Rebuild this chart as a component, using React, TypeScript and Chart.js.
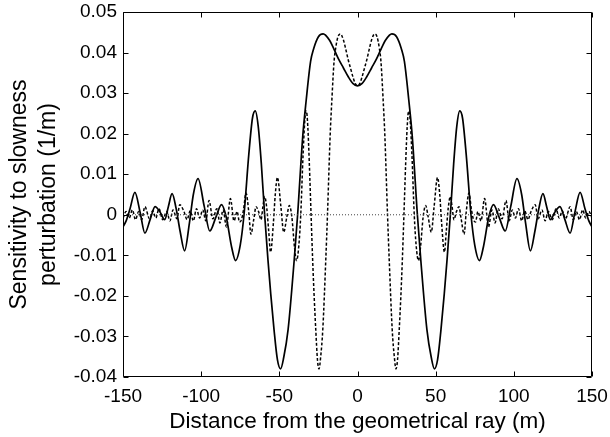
import React, { useEffect, useRef } from "react";
import { Chart, registerables } from "chart.js";

Chart.register(...registerables);

// Right half (x >= 0); the curves are symmetric about x = 0.
const solidHalfX = [0, 3, 6, 9, 12, 15, 18, 22, 25, 28, 30, 32.8, 35, 38.3, 40.5, 44.4, 47.2, 49.2, 51.2, 53.4, 55.5, 57.3, 59.4, 61.5, 63.5, 65.4, 67.2, 69.5, 72.6, 75, 78, 80.5, 84, 87, 90.5, 94.5, 98, 102, 105, 107.5, 110.6, 113.5, 116, 118.6, 121, 123.3, 126.5, 129.5, 132.5, 136, 139, 142.4, 145.5, 148, 150];
const solidHalfY = [0.0318, 0.0324, 0.0341, 0.0362, 0.0383, 0.0408, 0.0431, 0.0446, 0.0439, 0.041, 0.0378, 0.0283, 0.0195, 0.0, -0.0112, -0.0283, -0.0352, -0.038, -0.0358, -0.0283, -0.0195, -0.011, 0.0, 0.0125, 0.0218, 0.0256, 0.0238, 0.015, 0.0, -0.0075, -0.0113, -0.008, -0.0005, 0.0025, -0.0005, -0.004, 0.002, 0.0089, 0.005, -0.002, -0.0089, -0.004, 0.0015, 0.0052, 0.002, -0.0012, 0.0008, 0.002, -0.001, -0.0045, 0.0005, 0.0055, 0.0015, -0.0015, -0.003];

const dashedHalfX = [0, 1.5, 3, 4.5, 6, 7.5, 9, 11, 12.5, 14, 15, 16.4, 17.5, 19.2, 20.3, 22.2, 23.6, 24.6, 25.6, 26.7, 27.8, 28.7, 29.7, 30.8, 31.8, 32.7, 33.6, 34.8, 36.3, 37.5, 39, 40.3, 42, 43.6, 45.2, 47.2, 49, 51.2, 52.6, 53.8, 55.6, 56.8, 58, 59.4, 60.5, 61.7, 63.3, 64.9, 66.3, 68.2, 69.5, 71.3, 72.8, 74.2, 75.5, 77, 79, 81.3, 83.8, 86, 88, 90, 92.5, 95, 97, 99, 101, 103, 105, 107, 109, 111, 113.7, 115.5, 118, 120, 122, 124.6, 127, 129, 131, 133, 136, 138, 140, 142, 144, 146, 148, 150];
const dashedHalfY = [0.0318, 0.0324, 0.0341, 0.0362, 0.0383, 0.0408, 0.0431, 0.0446, 0.0439, 0.041, 0.0378, 0.0283, 0.0195, 0.0, -0.0112, -0.0283, -0.0352, -0.038, -0.0358, -0.0283, -0.0195, -0.011, 0.0, 0.0125, 0.0218, 0.0256, 0.0238, 0.015, 0.0, -0.0075, -0.0113, -0.008, -0.0005, 0.0023, -0.0005, -0.0043, 0.002, 0.0092, 0.005, -0.002, -0.0092, -0.004, 0.0015, 0.0045, 0.002, -0.0012, 0.0008, 0.002, -0.001, -0.0048, 0.0005, 0.0054, 0.0015, -0.0012, -0.0018, 0.0008, -0.0015, 0.004, -0.003, 0.0012, -0.002, 0.0015, -0.001, 0.0035, -0.0015, 0.0012, -0.0008, 0.0015, -0.0015, 0.001, -0.0012, 0.0008, 0.0025, -0.001, 0.0012, -0.0015, 0.0008, -0.0012, 0.0015, -0.0008, 0.001, -0.001, 0.002, -0.0012, 0.0008, -0.0012, 0.0012, -0.0008, 0.0008, -0.0008];

const zeroLineX = [-150, 150];
const zeroLineY = [0, 0];

const xTicks = [-150, -100, -50, 0, 50, 100, 150];
const yTicks = [-0.04, -0.03, -0.02, -0.01, 0, 0.01, 0.02, 0.03, 0.04, 0.05];

const xTitle = "Distance from the geometrical ray (m)";
const yTitle = ["Sensitivity to slowness", "perturbation (1/m)"];

function mirror(xs: number[], ys: number[]) {
  const pts: { x: number; y: number }[] = [];
  for (let i = xs.length - 1; i >= 1; i--) pts.push({ x: -xs[i], y: ys[i] });
  for (let i = 0; i < xs.length; i++) pts.push({ x: xs[i], y: ys[i] });
  return pts;
}

const framePlugin = {
  id: "frame",
  afterDraw(chart: any) {
    const { ctx, chartArea } = chart;
    const { left, right, top, bottom } = chartArea;
    const xs = chart.scales.x;
    const ys = chart.scales.y;
    const L = Math.round(left) + 0.5;
    const R = Math.round(right) - 0.5;
    const T = Math.round(top) + 0.5;
    const B = Math.round(bottom) - 0.5;
    ctx.save();
    ctx.strokeStyle = "#000";
    ctx.lineWidth = 1;
    ctx.beginPath();
    ctx.rect(L, T, R - L, B - T);
    const tl = 5;
    xTicks.forEach((v) => {
      const px = Math.round(xs.getPixelForValue(v)) + 0.5;
      ctx.moveTo(px, B);
      ctx.lineTo(px, B - tl);
      ctx.moveTo(px, T);
      ctx.lineTo(px, T + tl);
    });
    yTicks.forEach((v) => {
      const py = Math.round(ys.getPixelForValue(v)) + 0.5;
      ctx.moveTo(L, py);
      ctx.lineTo(L + tl, py);
      ctx.moveTo(R, py);
      ctx.lineTo(R - tl, py);
    });
    ctx.stroke();
    ctx.restore();
  },
};

export default function App() {
  const ref = useRef<HTMLCanvasElement | null>(null);

  useEffect(() => {
    if (!ref.current) return;
    const font = "'Liberation Sans', Arial, Helvetica, sans-serif";
    const chart = new Chart(ref.current, {
      type: "line",
      data: {
        datasets: [
          {
            label: "zero",
            data: zeroLineX.map((x, i) => ({ x, y: zeroLineY[i] })),
            borderColor: "#444",
            borderWidth: 1,
            borderDash: [1, 2],
            pointRadius: 0,
          },
          {
            label: "dashed",
            data: mirror(dashedHalfX, dashedHalfY),
            borderColor: "#000",
            borderWidth: 1.5,
            borderDash: [3, 2],
            pointRadius: 0,
            cubicInterpolationMode: "monotone",
          },
          {
            label: "solid",
            data: mirror(solidHalfX, solidHalfY),
            borderColor: "#000",
            borderWidth: 1.7,
            pointRadius: 0,
            cubicInterpolationMode: "monotone",
          },
        ],
      },
      options: {
        animation: false,
        responsive: false,
        maintainAspectRatio: false,
        events: [],
        layout: { padding: { left: 0, right: 18, top: 12, bottom: 0 } },
        plugins: {
          legend: { display: false },
          tooltip: { enabled: false },
        },
        scales: {
          x: {
            type: "linear",
            min: -150,
            max: 150,
            grid: { display: false, drawTicks: false },
            border: { display: false },
            afterBuildTicks: (s: any) => {
              s.ticks = xTicks.map((v) => ({ value: v }));
            },
            afterFit: (s: any) => {
              s.height = 60;
              s.paddingLeft = 0;
              s.paddingRight = 0;
            },
            ticks: {
              color: "#000",
              font: { family: font, size: 19 },
              padding: 8,
              maxRotation: 0,
              autoSkip: false,
              callback: (v: any) => String(v),
            },
            title: {
              display: true,
              text: xTitle,
              color: "#000",
              font: { family: font, size: 22.5, lineHeight: 1.2 },
              padding: { top: 0, bottom: 2 },
            },
          },
          y: {
            type: "linear",
            min: -0.04,
            max: 0.05,
            grid: { display: false, drawTicks: false },
            border: { display: false },
            afterBuildTicks: (s: any) => {
              s.ticks = yTicks.map((v) => ({ value: v }));
            },
            afterFit: (s: any) => {
              s.width = 123;
              s.paddingTop = 0;
              s.paddingBottom = 0;
            },
            ticks: {
              color: "#000",
              font: { family: font, size: 19 },
              padding: 6,
              autoSkip: false,
              callback: (v: any) => String(Number(Number(v).toFixed(2))),
            },
            title: {
              display: true,
              text: yTitle,
              color: "#000",
              font: { family: font, size: 23, lineHeight: 1.26 },
              padding: { top: 5.5, bottom: 0 },
            },
          },
        },
      },
      plugins: [framePlugin],
    });
    return () => chart.destroy();
  }, []);

  return (
    <div style={{ position: "absolute", left: 0, top: 0, width: 610, height: 437, background: "#fff" }}>
      <canvas ref={ref} width={610} height={437} style={{ display: "block" }} />
    </div>
  );
}
